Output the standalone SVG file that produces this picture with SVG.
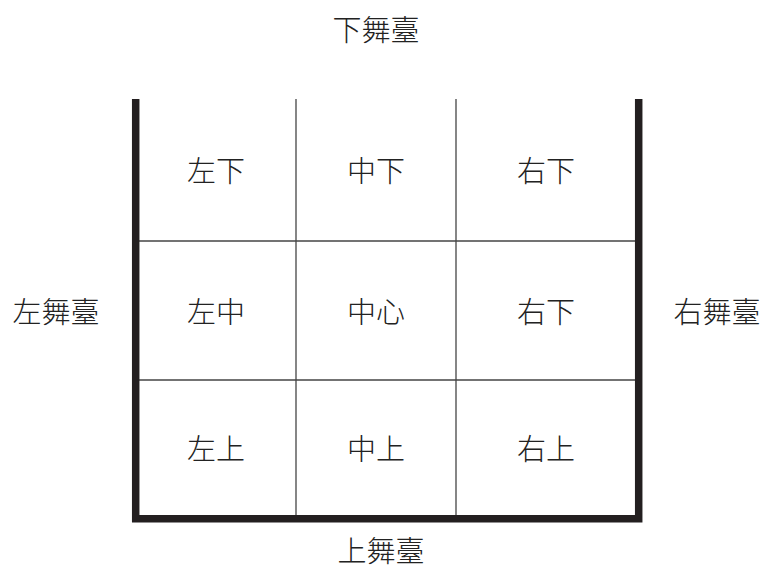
<svg xmlns="http://www.w3.org/2000/svg" width="766" height="570" viewBox="0 0 766 570">
<style>
.t{font-family:"Noto Sans CJK TC","Noto Sans CJK SC",sans-serif;font-weight:300;font-size:29px;fill:#222;text-anchor:middle;dominant-baseline:central}
.thin{stroke:#444;stroke-width:1.3;fill:none}
.thick{stroke:#231f20;stroke-width:7.5;fill:none}
</style>
<rect width="766" height="570" fill="#fff"/>
<g id="connectors">
<line class="thin" x1="296" y1="99" x2="296" y2="515"/>
<line class="thin" x1="456" y1="99" x2="456" y2="515"/>
<line class="thin" x1="139" y1="241" x2="635" y2="241"/>
<line class="thin" x1="139" y1="380" x2="635" y2="380"/>
<path class="thick" d="M135.7 99 V518.7 H638.7 V99"/>
</g>
<g id="label-top"><text class="t" x="376" y="28">下舞臺</text></g>
<g id="label-bottom"><text class="t" x="381" y="549">上舞臺</text></g>
<g id="label-left"><text class="t" x="56" y="310">左舞臺</text></g>
<g id="label-right"><text class="t" x="717" y="310">右舞臺</text></g>
<g id="cell-1"><text class="t" x="216" y="169">左下</text></g>
<g id="cell-2"><text class="t" x="376" y="169">中下</text></g>
<g id="cell-3"><text class="t" x="546" y="169">右下</text></g>
<g id="cell-4"><text class="t" x="216" y="310">左中</text></g>
<g id="cell-5"><text class="t" x="376" y="310">中心</text></g>
<g id="cell-6"><text class="t" x="546" y="310">右下</text></g>
<g id="cell-7"><text class="t" x="216" y="447">左上</text></g>
<g id="cell-8"><text class="t" x="376" y="447">中上</text></g>
<g id="cell-9"><text class="t" x="546" y="447">右上</text></g>
</svg>
